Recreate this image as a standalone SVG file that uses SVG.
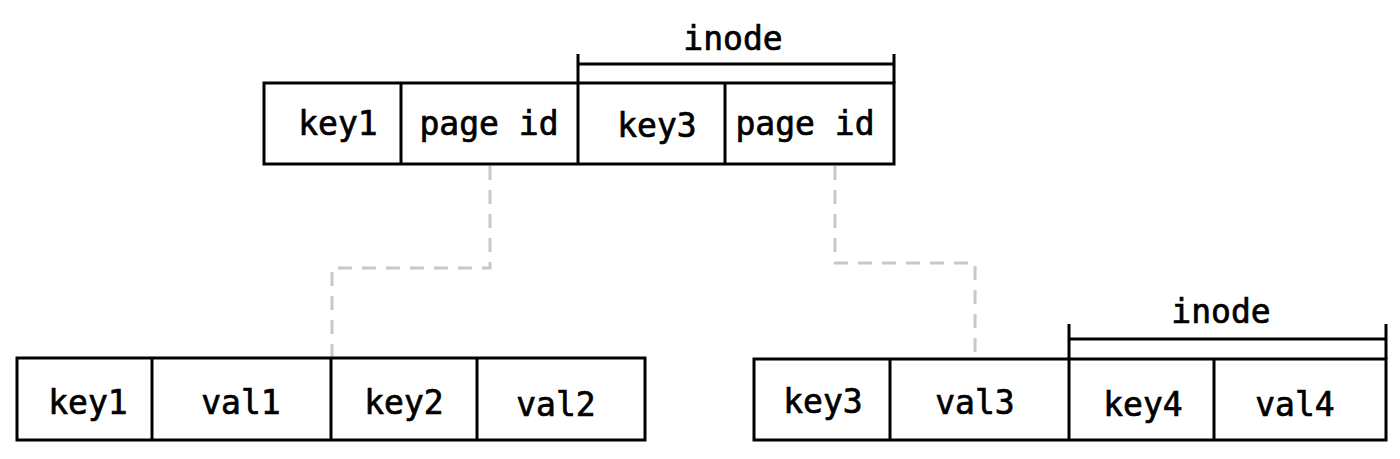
<svg xmlns="http://www.w3.org/2000/svg" width="1400" height="459" viewBox="0 0 1400 459">
<style>
.box{fill:#fff;stroke:#000;stroke-width:3}
.div{stroke:#000;stroke-width:3}
.t{font-family:"DejaVu Sans Mono","Liberation Mono",monospace;font-size:33px;fill:#000;stroke:#000;stroke-width:0.7;text-anchor:middle}
.br{fill:none;stroke:#000;stroke-width:3}
.con{fill:none;stroke:#c8c8c8;stroke-width:3;stroke-dasharray:14 10}
</style>
<rect width="1400" height="459" fill="#fff"/>
<g id="connectors">
<path class="con" d="M490 166 V268 H332 V357"/>
<path class="con" d="M835 166 V263 H975 V357"/>
</g>
<g id="top-node">
<rect class="box" x="264" y="83" width="630" height="81"/>
<line class="div" x1="401" y1="83" x2="401" y2="164"/>
<line class="div" x1="578" y1="83" x2="578" y2="164"/>
<line class="div" x1="725" y1="83" x2="725" y2="164"/>
<text class="t" x="338" y="135">key1</text>
<text class="t" x="489" y="135">page id</text>
<text class="t" x="657" y="137">key3</text>
<text class="t" x="805" y="135">page id</text>
<path class="br" d="M578 54 V83 M578 64 H894 M894 54 V83"/>
<text class="t" x="733" y="50">inode</text>
</g>
<g id="left-leaf">
<rect class="box" x="17" y="358" width="628" height="82"/>
<line class="div" x1="152" y1="358" x2="152" y2="440"/>
<line class="div" x1="331" y1="358" x2="331" y2="440"/>
<line class="div" x1="477" y1="358" x2="477" y2="440"/>
<text class="t" x="88" y="414">key1</text>
<text class="t" x="241" y="414">val1</text>
<text class="t" x="404" y="414">key2</text>
<text class="t" x="556" y="416">val2</text>
</g>
<g id="right-leaf">
<rect class="box" x="754" y="359" width="632" height="81"/>
<line class="div" x1="890" y1="359" x2="890" y2="440"/>
<line class="div" x1="1069" y1="359" x2="1069" y2="440"/>
<line class="div" x1="1214" y1="359" x2="1214" y2="440"/>
<text class="t" x="823" y="413">key3</text>
<text class="t" x="975" y="414">val3</text>
<text class="t" x="1143" y="416">key4</text>
<text class="t" x="1295" y="416">val4</text>
<path class="br" d="M1069 324 V359 M1069 339 H1386 M1386 324 V359"/>
<text class="t" x="1221" y="323">inode</text>
</g>
</svg>
